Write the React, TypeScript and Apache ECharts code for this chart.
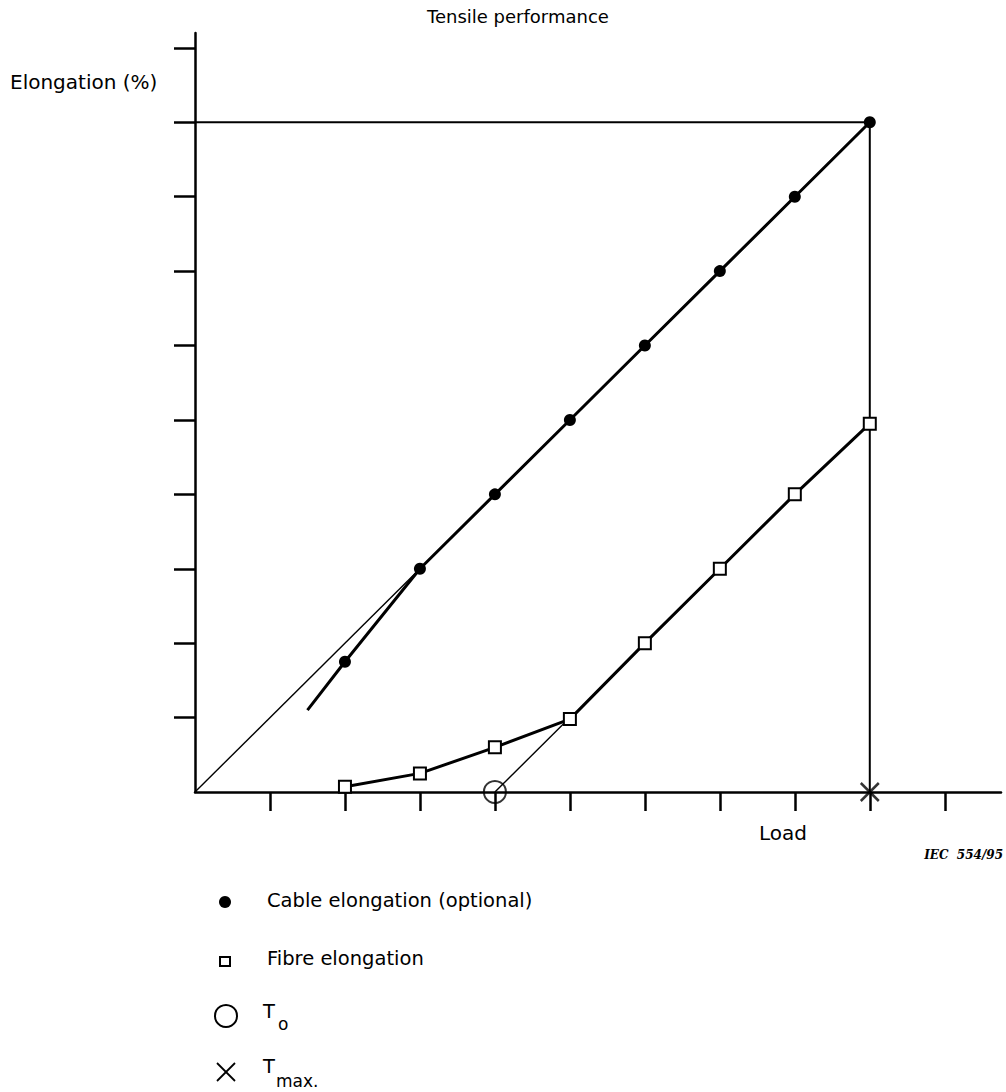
import React, { useEffect, useRef } from "react";
import * as echarts from "echarts";

// ---- data ----
const xTicks = [1, 2, 3, 4, 5, 6, 7, 8, 9, 10];
const yTicks = [1, 2, 3, 4, 5, 6, 7, 8, 9, 10];
const cableLead = [1.5, 1.1]; // start of drawn cable curve (no marker)
const cableLoad = [2, 3, 4, 5, 6, 7, 8, 9];
const cableElong = [1.75, 3, 4, 5, 6, 7, 8, 9];
const fibreLoad = [2, 3, 4, 5, 6, 7, 8, 9];
const fibreElong = [0.07, 0.25, 0.6, 0.98, 2, 3, 4, 4.95];
const originLine = [[0, 0], [3, 3]];
const t0Line = [[4, 0], [5, 1]];
const t0Point = [4, 0];
const tmaxPoint = [9, 0];
const limitH = [[0, 9], [9, 9]];
const limitV = [[9, 0], [9, 9]];
const titleText = "Tensile performance";
const yName = "Elongation (%)";
const xName = "Load";
const sourceText = "IEC  554/95";
const legendCable = "Cable elongation (optional)";
const legendFibre = "Fibre elongation";

const FONT = "DejaVu Sans";

export default function App() {
  const ref = useRef<HTMLDivElement>(null);
  useEffect(() => {
    if (!ref.current) return;
    const chart = echarts.init(ref.current, undefined, { renderer: "svg" });
    const black = "#000";
    const txt = (text: string, x: number, y: number, size: number, extra: any = {}) => ({
      type: "text",
      x,
      y,
      style: {
        text,
        fontFamily: FONT,
        fontSize: size,
        fill: black,
        textAlign: "left",
        textVerticalAlign: "middle",
        ...extra,
      },
    });
    const legendY = [900, 958, 1016, 1072];
    chart.setOption({
      animation: false,
      backgroundColor: "#fff",
      grid: { left: 195, top: 33, right: 5, bottom: 300, containLabel: false },
      xAxis: {
        type: "value",
        min: 0,
        max: 10.75,
        axisLine: { lineStyle: { color: black, width: 2.5 } },
        axisTick: { show: true, customValues: xTicks, length: 19, lineStyle: { color: black, width: 2.5 } },
        axisLabel: { show: false },
        splitLine: { show: false },
      },
      yAxis: {
        type: "value",
        min: 0,
        max: 10.2,
        axisLine: { show: true, lineStyle: { color: black, width: 2.5 } },
        axisTick: { show: true, customValues: yTicks, length: 21, lineStyle: { color: black, width: 2.5 } },
        axisLabel: { show: false },
        splitLine: { show: false },
      },
      series: [
        {
          type: "line",
          data: limitH,
          symbol: "none",
          lineStyle: { color: black, width: 2 },
          z: 1,
        },
        {
          type: "line",
          data: limitV,
          symbol: "none",
          lineStyle: { color: black, width: 2 },
          z: 1,
        },
        {
          type: "line",
          data: originLine,
          symbol: "none",
          lineStyle: { color: black, width: 1.4 },
          z: 2,
        },
        {
          type: "line",
          data: t0Line,
          symbol: "none",
          lineStyle: { color: black, width: 1.4 },
          z: 2,
        },
        {
          name: legendCable,
          type: "line",
          data: [
            { value: cableLead, symbol: "none" },
            ...cableLoad.map((x, i) => [x, cableElong[i]]),
          ],
          symbol: "circle",
          symbolSize: 12,
          itemStyle: { color: black },
          lineStyle: { color: black, width: 3 },
          z: 3,
        },
        {
          name: legendFibre,
          type: "line",
          data: fibreLoad.map((x, i) => [x, fibreElong[i]]),
          symbol: "rect",
          symbolSize: 12,
          showAllSymbol: true,
          itemStyle: { color: "#fff", borderColor: black, borderWidth: 2 },
          lineStyle: { color: black, width: 3 },
          z: 3,
        },
        {
          name: "T0",
          type: "scatter",
          data: [t0Point],
          symbol: "circle",
          symbolSize: 22,
          itemStyle: { color: "rgba(0,0,0,0)", borderColor: black, borderWidth: 2 },
          z: 4,
        },
        {
          name: "Tmax",
          type: "scatter",
          data: [tmaxPoint],
          symbol: "path://M0 0L20 20M20 0L0 20",
          symbolSize: 18,
          itemStyle: { color: "none", borderColor: black, borderWidth: 2.5 },
          z: 4,
        },
      ],
      graphic: [
        txt(titleText, 427, 16, 18),
        txt(yName, 10, 82, 20),
        txt(xName, 759, 833, 20),
        txt(sourceText, 1003, 855, 12, {
          textAlign: "right",
          fontFamily: "DejaVu Serif",
          fontStyle: "italic",
          fontWeight: "bold",
        }),
        // legend
        { type: "circle", shape: { cx: 225, cy: legendY[0] + 2, r: 6 }, style: { fill: black } },
        txt(legendCable, 267, legendY[0], 19.5),
        {
          type: "rect",
          shape: { x: 220, y: legendY[1] - 1, width: 10, height: 9 },
          style: { fill: "#fff", stroke: black, lineWidth: 2 },
        },
        txt(legendFibre, 267, legendY[1], 19.5),
        {
          type: "circle",
          shape: { cx: 226, cy: legendY[2], r: 11 },
          style: { fill: "none", stroke: black, lineWidth: 2 },
        },
        txt("T", 263, legendY[2] - 5, 19.5),
        txt("o", 278, legendY[2] + 8, 17),
        {
          type: "line",
          shape: { x1: 217, y1: legendY[3] - 9, x2: 235, y2: legendY[3] + 9 },
          style: { stroke: black, lineWidth: 1.8 },
        },
        {
          type: "line",
          shape: { x1: 235, y1: legendY[3] - 9, x2: 217, y2: legendY[3] + 9 },
          style: { stroke: black, lineWidth: 1.8 },
        },
        txt("T", 263, legendY[3] - 6, 19.5),
        txt("max.", 276, legendY[3] + 9, 17),
      ],
    });
    return () => chart.dispose();
  }, []);
  return (
    <div
      ref={ref}
      style={{ position: "fixed", left: 0, top: 0, width: 1006, height: 1092, background: "#fff" }}
    />
  );
}
